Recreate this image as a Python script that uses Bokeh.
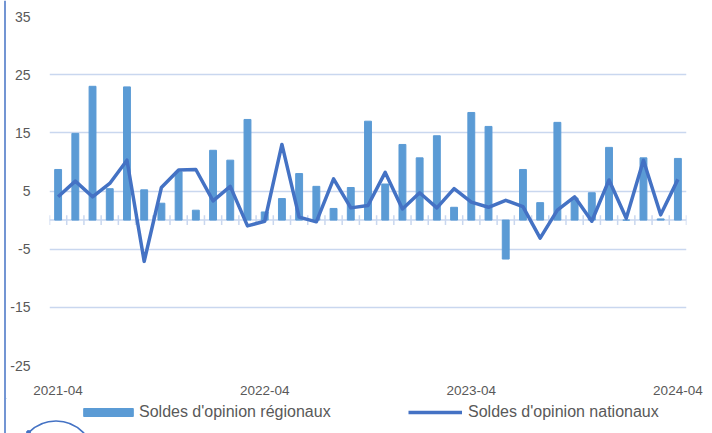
import pandas as pd
from bokeh.plotting import figure
from bokeh.layouts import row, column
from bokeh.models import Range1d, FixedTicker, Legend, LegendItem, ColumnDataSource
from bokeh.embed import file_html
from bokeh.resources import INLINE

# ---- data ----
months = [str(m) for m in pd.period_range("2021-04", "2024-04", freq="M")]
regional = [8.7, 14.9, 23.0, 5.4, 22.9, 5.2, 2.9, 8.3, 1.7, 12.0, 10.3, 17.3, 1.4,
            3.7, 8.0, 5.8, 2.0, 5.6, 17.0, 6.2, 13.0, 10.7, 14.5, 2.2, 18.5, 16.1,
            -6.7, 8.7, 3.0, 16.8, 3.8, 4.7, 12.5, 0.0, 10.7, 0.2, 10.6]
national = [4.0, 6.7, 4.0, 6.3, 10.3, -7.1, 5.6, 8.6, 8.7, 3.3, 5.8, -1.0, -0.2,
            13.0, 0.5, -0.3, 7.1, 2.1, 2.5, 8.2, 1.9, 4.7, 2.1, 5.4, 3.1, 2.2,
            3.4, 2.3, -3.1, 1.7, 4.0, -0.2, 6.9, 0.3, 10.3, 0.9, 7.0]
x_tick_labels = ["2021-04", "2022-04", "2023-04", "2024-04"]
y_ticks = [-25, -15, -5, 5, 15, 25, 35]
label_regional = "Soldes d'opinion régionaux"
label_national = "Soldes d'opinion nationaux"

n = len(months)
idx = list(range(n))
src = ColumnDataSource(dict(x=idx, month=months, regional=regional, national=national))

GRID = "#c9d7ef"
TXT = "#595959"
BAR = "#5b9bd5"
LINE = "#4472c4"

W_STRIP = 6
W_MAIN = 712 - W_STRIP
H_MAIN = 398
H_LEG = 433 - H_MAIN

NOB = dict(min_border=0, min_border_left=0, min_border_right=0,
           min_border_top=0, min_border_bottom=0)

# ---- left frame strip ----
strip = figure(width=W_STRIP, height=433, output_backend="svg", toolbar_location=None,
               x_range=Range1d(0, W_STRIP), y_range=Range1d(0, 433),
               x_axis_location=None, y_axis_location=None, **NOB)
strip.outline_line_color = None
strip.grid.visible = False
strip.frame_align = False
strip.segment(x0=[4.5], y0=[0], x1=[4.5], y1=[433], line_color=LINE, line_width=1.5)

# ---- main chart ----
p = figure(width=W_MAIN, height=H_MAIN, output_backend="svg", toolbar_location=None,
           x_range=Range1d(-0.5, n - 0.5), y_range=Range1d(y_ticks[0], y_ticks[-1]),
           min_border_left=43, min_border_right=26, min_border_top=16,
           min_border_bottom=33)
p.outline_line_color = None
p.frame_align = False

p.xaxis.ticker = FixedTicker(ticks=[months.index(t) for t in x_tick_labels])
p.xaxis.major_label_overrides = {months.index(t): t for t in x_tick_labels}
p.xaxis.axis_line_color = None
p.xaxis.major_tick_line_color = None
p.xaxis.minor_tick_line_color = None
p.xaxis.major_label_standoff = 14
p.xaxis.major_label_text_font = "Liberation Sans"
p.xaxis.major_label_text_font_size = "13.5px"
p.xaxis.major_label_text_color = TXT

p.yaxis.ticker = FixedTicker(ticks=y_ticks)
p.yaxis.major_label_overrides = {t: str(t) for t in y_ticks}
p.yaxis.axis_line_color = None
p.yaxis.major_tick_line_color = None
p.yaxis.minor_tick_line_color = None
p.yaxis.major_label_standoff = 13
p.yaxis.major_label_text_font = "Liberation Sans"
p.yaxis.major_label_text_font_size = "14px"
p.yaxis.major_label_text_color = TXT

p.xgrid.visible = False
p.ygrid.ticker = FixedTicker(ticks=y_ticks)
p.ygrid.grid_line_color = GRID
p.ygrid.grid_line_width = 1.5

bounds = [i - 0.5 for i in range(n + 1)]
p.segment(x0=[bounds[0]], y0=[0], x1=[bounds[-1]], y1=[0], line_color=GRID, line_width=1.5)
p.segment(x0=bounds, y0=[-0.85] * len(bounds), x1=bounds, y1=[0.85] * len(bounds),
          line_color=GRID, line_width=1.5)

bars = p.vbar(x="x", top="regional", width=0.4, color=BAR, source=src)
line = p.line(x="x", y="national", line_color=LINE, line_width=3.5,
              line_join="round", source=src)

# ---- legend strip (page pixel coordinates) ----
lg = figure(width=W_MAIN, height=H_LEG, output_backend="svg", toolbar_location=None,
            x_range=Range1d(W_STRIP, 712), y_range=Range1d(433, H_MAIN),
            x_axis_location=None, y_axis_location=None, **NOB)
lg.outline_line_color = None
lg.grid.visible = False
lg.frame_align = False
# decorative logo arc at bottom-left
lg.circle(x=[55.5], y=[458.5], radius=38, fill_color=None, line_color=LINE, line_width=1.6)
lg.scatter(x=[28], y=[432], size=4, color=LINE)

# off-frame stand-ins that carry the legend styling
dummy_bar = lg.vbar(x=[0], top=[0], bottom=[0], width=0.4, color=BAR)
dummy_line = lg.line(x=[0, 0], y=[0, 0], line_color=LINE, line_width=3.5)

common = dict(padding=0, margin=0, border_line_color=None, background_fill_alpha=0,
              label_text_font="Liberation Sans", label_text_font_size="16px",
              label_text_color=TXT, glyph_height=10)
leg1 = Legend(items=[LegendItem(label=label_regional, renderers=[dummy_bar])],
              location=(71, 12), glyph_width=62, label_standoff=0, **common)
leg2 = Legend(items=[LegendItem(label=label_national, renderers=[dummy_line])],
              location=(402, 12), glyph_width=54, label_standoff=6, **common)
lg.add_layout(leg1)
lg.add_layout(leg2)

layout = row(strip, column(p, lg, spacing=0), spacing=0)
open("out.html", "w").write(file_html(layout, INLINE))
